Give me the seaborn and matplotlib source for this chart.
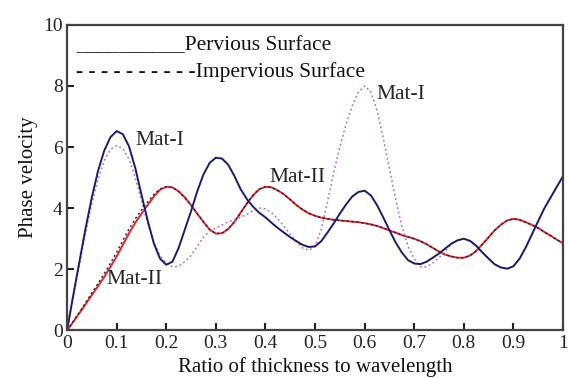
import numpy as np
import pandas as pd
import seaborn as sns
import matplotlib.pyplot as plt

# =============================================================================
# 数据 (从图中读取, 步长 0.0125)
# =============================================================================
ratio = [i / 80 for i in range(81)]

mat1_pervious = [
    0.00, 1.15, 2.25, 3.35, 4.35, 5.22, 5.88, 6.32, 6.52, 6.42,
    6.02, 5.32, 4.45, 3.60, 2.85, 2.35, 2.15, 2.25, 2.70, 3.30,
    3.90, 4.55, 5.10, 5.48, 5.65, 5.62, 5.42, 5.05, 4.62, 4.30,
    4.05, 3.85, 3.70, 3.52, 3.35, 3.20, 3.05, 2.92, 2.80, 2.73,
    2.75, 2.92, 3.20, 3.50, 3.82, 4.12, 4.38, 4.53, 4.57, 4.42,
    4.10, 3.70, 3.28, 2.88, 2.55, 2.30, 2.19, 2.17, 2.25, 2.38,
    2.52, 2.68, 2.84, 2.95, 3.00, 2.93, 2.77, 2.55, 2.35, 2.16,
    2.06, 2.02, 2.10, 2.35, 2.72, 3.15, 3.58, 4.00, 4.35, 4.70,
    5.05]

mat1_impervious = [
    0.00, 1.10, 2.15, 3.20, 4.15, 4.95, 5.55, 5.92, 6.05, 5.95,
    5.60, 5.00, 4.25, 3.50, 2.90, 2.45, 2.20, 2.08, 2.10, 2.25,
    2.45, 2.75, 3.05, 3.25, 3.35, 3.45, 3.55, 3.62, 3.70, 3.80,
    3.92, 4.00, 3.98, 3.85, 3.65, 3.40, 3.15, 2.90, 2.70, 2.62,
    2.75, 3.30, 4.20, 5.15, 6.00, 6.75, 7.35, 7.80, 8.00, 7.80,
    7.20, 6.30, 5.30, 4.30, 3.40, 2.75, 2.35, 2.08, 2.08, 2.20,
    2.38, 2.60, 2.82, 2.95, 3.00, 2.93, 2.77, 2.55, 2.35, 2.16,
    2.06, 2.02, 2.10, 2.35, 2.72, 3.15, 3.58, 4.00, 4.35, 4.70,
    5.05]

mat2_pervious = [
    0.00, 0.28, 0.57, 0.86, 1.16, 1.45, 1.75, 2.08, 2.42, 2.80,
    3.18, 3.52, 3.82, 4.10, 4.38, 4.60, 4.70, 4.68, 4.55, 4.35,
    4.10, 3.82, 3.55, 3.30, 3.17, 3.18, 3.32, 3.55, 3.85, 4.15,
    4.42, 4.62, 4.70, 4.68, 4.58, 4.45, 4.28, 4.10, 3.95, 3.83,
    3.75, 3.69, 3.65, 3.62, 3.60, 3.58, 3.56, 3.54, 3.51, 3.47,
    3.42, 3.35, 3.27, 3.20, 3.12, 3.06, 3.00, 2.92, 2.82, 2.70,
    2.58, 2.48, 2.42, 2.38, 2.38, 2.45, 2.60, 2.82, 3.05, 3.28,
    3.46, 3.60, 3.65, 3.62, 3.54, 3.45, 3.35, 3.22, 3.10, 2.97,
    2.85]

mat2_impervious = [
    0.00, 0.30, 0.60, 0.91, 1.23, 1.54, 1.86, 2.20, 2.56, 2.94,
    3.32, 3.65, 3.94, 4.20, 4.45, 4.63, 4.70, 4.68, 4.55, 4.35,
    4.10, 3.82, 3.55, 3.30, 3.17, 3.18, 3.32, 3.55, 3.85, 4.15,
    4.42, 4.62, 4.70, 4.68, 4.58, 4.45, 4.28, 4.10, 3.95, 3.83,
    3.75, 3.69, 3.65, 3.62, 3.60, 3.58, 3.56, 3.54, 3.51, 3.47,
    3.42, 3.35, 3.27, 3.20, 3.12, 3.06, 3.00, 2.92, 2.82, 2.70,
    2.58, 2.48, 2.42, 2.38, 2.38, 2.45, 2.60, 2.82, 3.05, 3.28,
    3.46, 3.60, 3.65, 3.62, 3.54, 3.45, 3.35, 3.22, 3.10, 2.97,
    2.85]

x_ticks = [0, 0.1, 0.2, 0.3, 0.4, 0.5, 0.6, 0.7, 0.8, 0.9, 1]
x_tick_labels = ["0", "0.1", "0.2", "0.3", "0.4", "0.5", "0.6", "0.7", "0.8", "0.9", "1"]
y_ticks = [0, 2, 4, 6, 8, 10]

# =============================================================================
# 绘图
# =============================================================================
sns.set_style("ticks")
plt.rcParams['font.family'] = ['Liberation Serif', 'DejaVu Serif']
plt.rcParams['axes.unicode_minus'] = False

df = pd.DataFrame({
    'ratio': ratio,
    'm1p': mat1_pervious,
    'm1i': mat1_impervious,
    'm2p': mat2_pervious,
    'm2i': mat2_impervious,
})

fig = plt.figure(figsize=(5.69, 3.78), dpi=100)
ax = fig.add_axes([0.1178, 0.1257, 0.8717, 0.809])

navy = '#1c1c6a'
violet = '#b46cc8'
red = '#e8261c'

sns.lineplot(data=df, x='ratio', y='m2p', ax=ax, color=red, linewidth=1.4)
sns.lineplot(data=df, x='ratio', y='m2i', ax=ax, color=navy, linewidth=1.0,
             linestyle=(0, (1.5, 2.0)))
sns.lineplot(data=df, x='ratio', y='m1i', ax=ax, color=violet, linewidth=1.1,
             linestyle=(0, (1.2, 1.8)))
sns.lineplot(data=df, x='ratio', y='m1p', ax=ax, color=navy, linewidth=1.4)

ax.set_xlim(0, 1)
ax.set_ylim(0, 10)
ax.set_xticks(x_ticks)
ax.set_xticklabels(x_tick_labels)
ax.set_yticks(y_ticks)
ax.tick_params(direction='in', length=5, width=1.5, labelsize=14, colors='#222222',
               top=False, right=False, pad=3)
for s in ax.spines.values():
    s.set_color('#444444')
    s.set_linewidth(1.6)

ax.set_xlabel('Ratio of thickness to wavelength', fontsize=15, color='#111111', labelpad=4)
ax.set_ylabel('Phase velocity', fontsize=15, color='#111111', labelpad=4)

# 图例 (原图中为文字形式)
ax.text(0.018, 0.917, '__________Pervious Surface', transform=ax.transAxes,
        fontsize=15.5, color='#111111', va='baseline')
ax.text(0.018, 0.829, '- - - - - - - - - -Impervious Surface', transform=ax.transAxes,
        fontsize=15.5, color='#111111', va='baseline')

# 标注
ax.text(0.137, 6.2, 'Mat-I', fontsize=15.5, va='center')
ax.text(0.624, 7.73, 'Mat-I', fontsize=15.5, va='center')
ax.text(0.409, 5.0, 'Mat-II', fontsize=15.5, va='center')
ax.text(0.079, 1.67, 'Mat-II', fontsize=15.5, va='center')

fig.savefig('out.png', dpi=100, facecolor='white')
